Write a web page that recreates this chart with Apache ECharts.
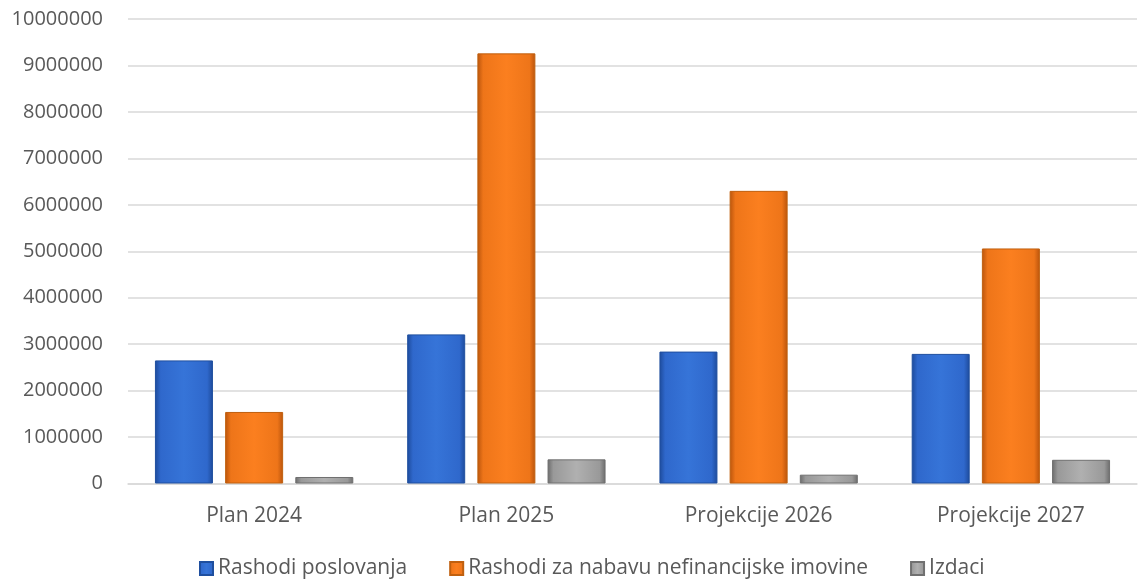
<!DOCTYPE html>
<html>
<head>
<meta charset="utf-8">
<script src="https://cdn.jsdelivr.net/npm/echarts@6/dist/echarts.min.js"></script>
<style>html,body{margin:0;padding:0;background:#fff}#c{width:1139px;height:585px}</style>
</head>
<body>
<div id="c"></div>
<script>
const categories = ['Plan 2024', 'Plan 2025', 'Projekcije 2026', 'Projekcije 2027'];
const seriesNames = ['Rashodi poslovanja', 'Rashodi za nabavu nefinancijske imovine', 'Izdaci'];
const rashodiPoslovanja = [2650000, 3210000, 2840000, 2790000];
const rashodiNabava = [1540000, 9260000, 6300000, 5060000];
const izdaci = [140000, 520000, 190000, 510000];
const yTicks = { min: 0, max: 10000000, interval: 1000000 };

function grad(dark, mid, light) {
  return new echarts.graphic.LinearGradient(0, 0, 1, 0, [
    { offset: 0, color: dark },
    { offset: 0.1, color: mid },
    { offset: 0.5, color: light },
    { offset: 0.9, color: mid },
    { offset: 1, color: dark }
  ]);
}
const colors = [
  grad('#1d4a9a', '#2f68cc', '#3674d8'),
  grad('#b9540c', '#ee7519', '#fb7f1f'),
  grad('#6b6b6b', '#999999', '#b0b0b0')
];
const borders = ['#1f4f9f', '#c0600f', '#707070'];
const dataSets = [rashodiPoslovanja, rashodiNabava, izdaci];

const chart = echarts.init(document.getElementById('c'));
const font = '"Open Sans", "Noto Sans", sans-serif';
chart.setOption({
  animation: false,
  textStyle: { fontFamily: font },
  grid: { left: 128, right: 2, top: 19, bottom: 101.5, containLabel: false },
  legend: {
    top: 553,
    left: 194,
    itemWidth: 13,
    itemHeight: 13,
    itemGap: 42,
    icon: 'rect',
    textStyle: { fontSize: 21, color: '#595959', fontFamily: font },
    data: seriesNames
  },
  xAxis: {
    type: 'category',
    data: categories,
    axisLine: { lineStyle: { color: '#d9d9d9', width: 1.5 } },
    axisTick: { show: false },
    axisLabel: { fontSize: 21, color: '#595959', margin: 22, fontFamily: font }
  },
  yAxis: {
    type: 'value',
    min: yTicks.min,
    max: yTicks.max,
    interval: yTicks.interval,
    axisLine: { show: false },
    axisTick: { show: false },
    splitLine: { lineStyle: { color: '#d9d9d9', width: 1.5 } },
    axisLabel: { fontSize: 20, color: '#595959', margin: 25, fontFamily: font, formatter: v => String(v) }
  },
  series: seriesNames.map((n, i) => ({
    name: n,
    type: 'bar',
    data: dataSets[i],
    barWidth: 58,
    barGap: '21%',
    itemStyle: { color: colors[i], borderColor: borders[i], borderWidth: 1 }
  }))
});
</script>
</body>
</html>
